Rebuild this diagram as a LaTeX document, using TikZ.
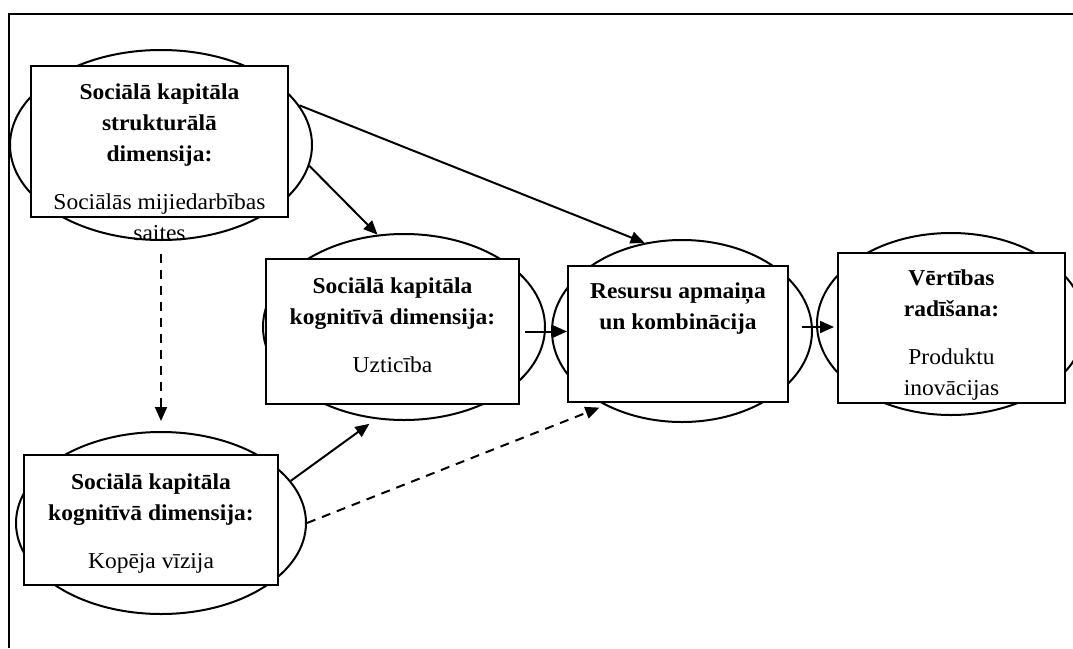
\documentclass[tikz,border=0pt]{standalone}
\usepackage{fontspec}
\setmainfont{Liberation Serif}[FakeStretch=1.035]
\usetikzlibrary{shapes.geometric,arrows.meta,calc}
\begin{document}
\begin{tikzpicture}[x=1pt,y=-1pt,
  ell/.style={draw, ellipse, line width=2pt, inner sep=0pt},
  box/.style={draw, fill=white, rectangle, line width=2pt, inner sep=0pt},
  lbl/.style={align=center, font=\fontsize{22.7}{31}\selectfont, anchor=base, inner sep=0pt},
  arr/.style={line width=2pt, -{Triangle[length=14pt,width=12pt]}},
  dsh/.style={dash pattern=on 9pt off 7pt}]
\useasboundingbox (0,0) rectangle (1073,648);
\begin{scope}
\clip (0,0) rectangle (1073,648);
\draw[line width=2pt] (9,648) -- (9,14) -- (1080,14);
% ellipses
\node[ell, minimum width=302pt, minimum height=190pt] (e1) at (161,145) {};
\node[ell, minimum width=282pt, minimum height=186pt] (e2) at (404,327) {};
\node[ell, minimum width=290pt, minimum height=182pt] (e3) at (161,523) {};
\node[ell, minimum width=260pt, minimum height=182pt] (e4) at (682,331) {};
\node[ell, minimum width=268pt, minimum height=182pt] (e5) at (951,324) {};
% boxes
\node[box, minimum width=257pt, minimum height=151pt] (b1) at (159.5,141.5) {};
\node[box, minimum width=253pt, minimum height=145pt] (b2) at (392.5,331.5) {};
\node[box, minimum width=254pt, minimum height=130pt] (b3) at (151,520) {};
\node[box, minimum width=220pt, minimum height=136pt] (b4) at (678,334) {};
\node[box, minimum width=227pt, minimum height=150pt] (b5) at (951.5,328) {};
% texts (anchor base = baseline of last line)
\node[lbl] (t1) at (159.5,240) {\textbf{Sociālā kapitāla}\\\textbf{strukturālā}\\\textbf{dimensija:}\\[17pt]Sociālās mijiedarbības\\saites};
\node[lbl] (t2) at (392.5,372) {\textbf{Sociālā kapitāla}\\\textbf{kognitīvā dimensija:}\\[17pt]Uzticība};
\node[lbl] (t3) at (151,568) {\textbf{Sociālā kapitāla}\\\textbf{kognitīvā dimensija:}\\[17pt]Kopēja vīzija};
\node[lbl] (t4) at (678,329) {\textbf{Resursu apmaiņa}\\\textbf{un kombinācija}};
\node[lbl] (t5) at (951.5,395) {\textbf{Vērtības}\\\textbf{radīšana:}\\[17pt]Produktu\\inovācijas};
% connectors
\draw[arr] (e1.16.8) -- (e4.113);
\draw[arr] (e1.-8.6) -- (e2.106);
\draw[arr, dsh, shorten <=13pt, shorten >=10pt] (e1.south) -- (e3.north);
\draw[arr, shorten >=8pt] (e3.18) -- (e2.-107);
\draw[arr, dsh, shorten >=6pt] (e3.0) -- (e4.-136);
\draw[arr, shorten <=5pt] (b2.east) -- (b2.east -| b4.west);
\draw[arr] ($(b4.east)+(13,-7)$) -- ($(b5.west)+(-3,-1)$);
\end{scope}
\end{tikzpicture}
\end{document}
